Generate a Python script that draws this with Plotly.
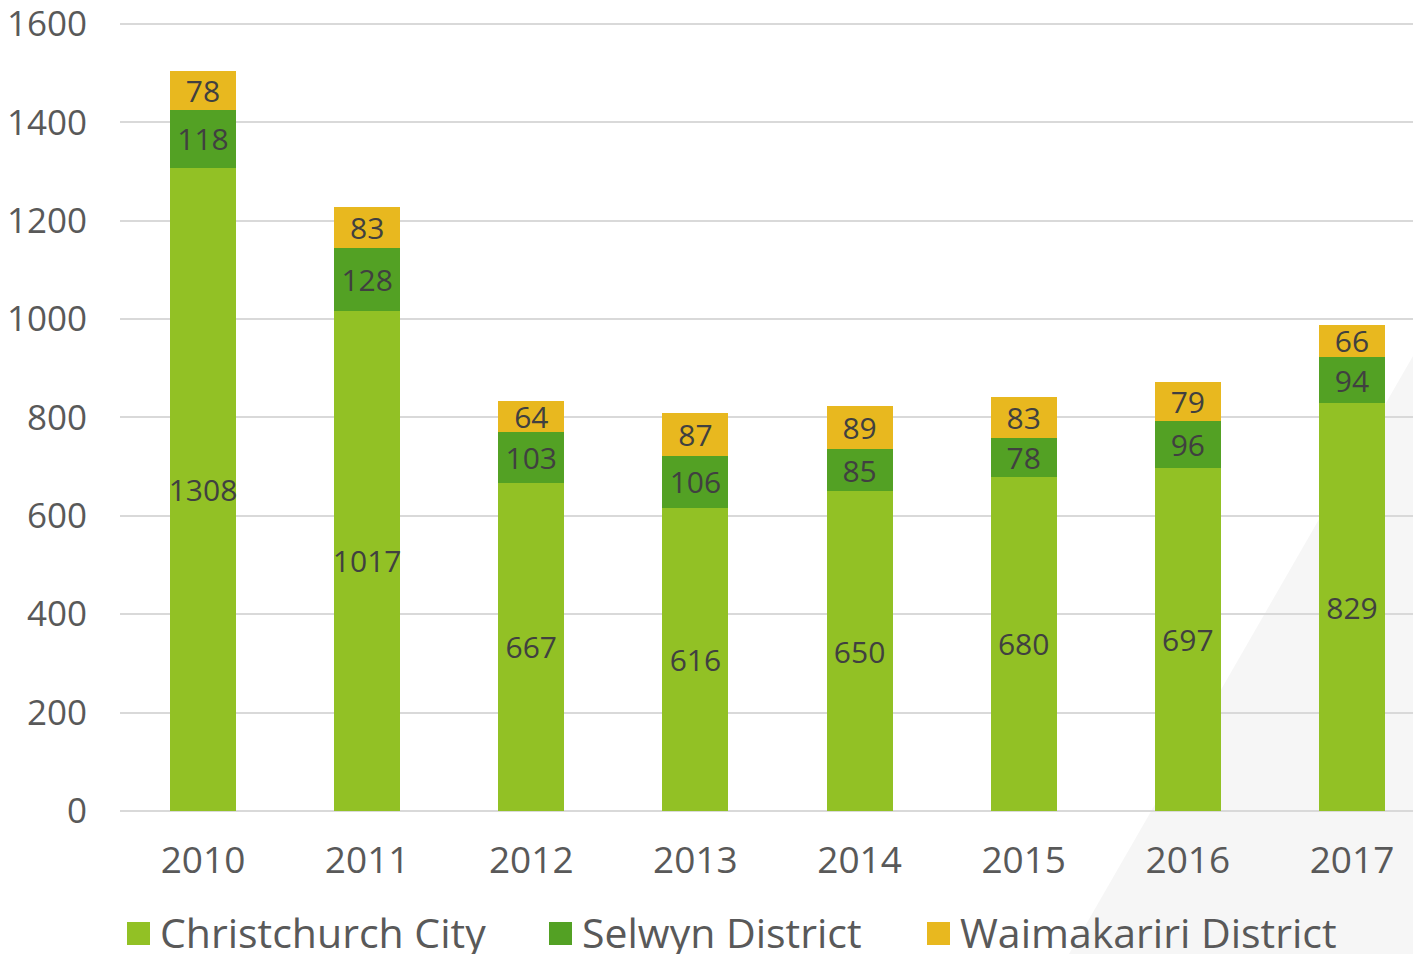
import plotly.graph_objects as go

years = ["2010", "2011", "2012", "2013", "2014", "2015", "2016", "2017"]
christchurch = [1308, 1017, 667, 616, 650, 680, 697, 829]
selwyn = [118, 128, 103, 106, 85, 78, 96, 94]
waimakariri = [78, 83, 64, 87, 89, 83, 79, 66]
series_names = ["Christchurch City", "Selwyn District", "Waimakariri District"]
series_colors = ["#92C125", "#53A124", "#E8B81F"]
y_ticks = [0, 200, 400, 600, 800, 1000, 1200, 1400, 1600]

# page has an 8px body margin; figure placed at (8, 8)
OFF = 8
Y_TOP = 1606
SCALE = 787 / 1600          # px per unit
W, H = 1421 - OFF, 954 - OFF
L, R = 120 - OFF, 0
B = H - (811 - OFF)
PH_target = Y_TOP * SCALE
T = round(811 - PH_target) - OFF
PW, PH = W - L - R, H - T - B


def px_x(p):
    return (p - OFF - L) / PW


def px_y(p):
    return (H - B - (p - OFF)) / PH


FONT = "Open Sans, Segoe UI, sans-serif"

fig = go.Figure()
for name, vals, col in zip(series_names, [christchurch, selwyn, waimakariri], series_colors):
    fig.add_trace(go.Bar(
        x=years, y=vals, name=name,
        marker=dict(color=col, line=dict(width=0)),
        text=[str(v) for v in vals],
        textposition="inside", insidetextanchor="middle",
        constraintext="none", textangle=0,
        textfont=dict(family=FONT, size=30, color="#404040"),
        width=0.402, showlegend=False, cliponaxis=False,
    ))

shapes = [
    dict(type="path", xref="paper", yref="paper", layer="below",
         path=f"M {px_x(1421)},{px_y(342)} L {px_x(1069)},{px_y(954)} L {px_x(1421)},{px_y(954)} Z",
         fillcolor="#F6F6F6", line=dict(width=0)),
]
annotations = []
legend_sq_x = [127, 549, 927]
for name, col, sx in zip(series_names, series_colors, legend_sq_x):
    shapes.append(dict(type="rect", xref="paper", yref="paper",
                       x0=px_x(sx), x1=px_x(sx + 23), y0=px_y(945), y1=px_y(922),
                       fillcolor=col, line=dict(width=0)))
    annotations.append(dict(xref="paper", yref="paper", x=px_x(sx + 31), y=px_y(932),
                            xanchor="left", yanchor="middle", showarrow=False,
                            text=name, font=dict(family=FONT, size=41, color="#595959")))

fig.update_layout(
    barmode="stack",
    width=W, height=H,
    margin=dict(l=L, r=R, t=T, b=B, pad=0, autoexpand=False),
    paper_bgcolor="white", plot_bgcolor="rgba(0,0,0,0)",
    font=dict(family=FONT, color="#595959"),
    shapes=shapes, annotations=annotations,
    xaxis=dict(type="category", range=[-0.5057, 7.4205], showgrid=False,
               showline=False, zeroline=False, automargin=False,
               ticks="outside", ticklen=17, tickcolor="rgba(0,0,0,0)",
               tickfont=dict(family=FONT, size=37, color="#595959")),
    yaxis=dict(range=[0, Y_TOP], tickvals=y_ticks, showgrid=True,
               gridcolor="#D9D9D9", gridwidth=1.5,
               zeroline=True, zerolinecolor="#D9D9D9", zerolinewidth=2,
               showline=False, automargin=False, ticklabeloverflow="allow",
               ticks="outside", ticklen=25, tickcolor="rgba(0,0,0,0)",
               tickfont=dict(family=FONT, size=35, color="#595959")),
)

fig.write_html("out.html")
